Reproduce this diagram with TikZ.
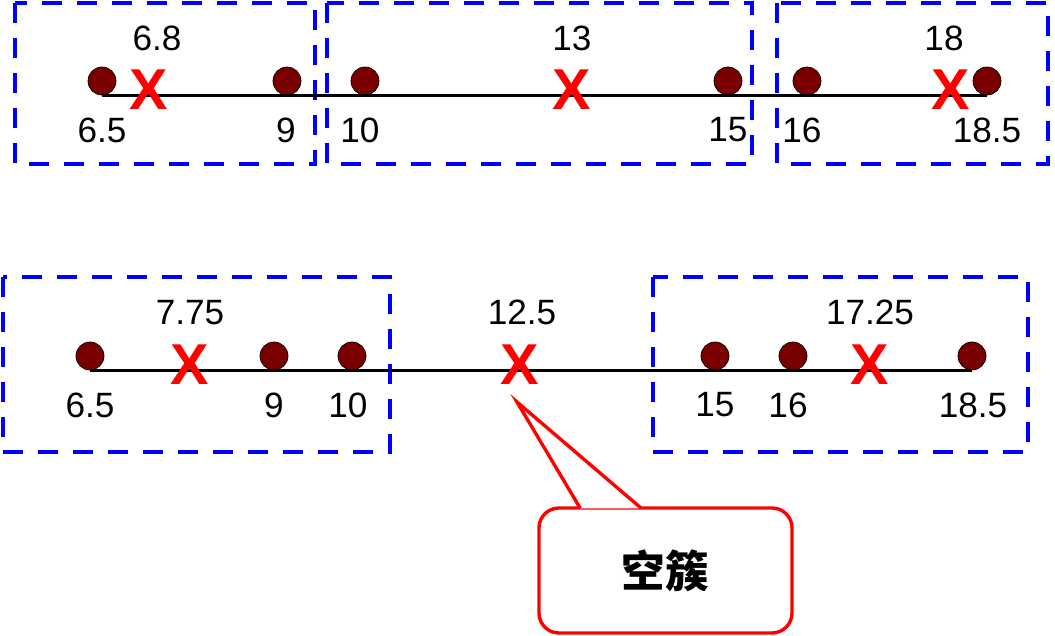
\documentclass[tikz,border=0pt]{standalone}
\usepackage{fontspec}
\setmainfont{Liberation Sans}
\newfontfamily\cjk{Noto Sans CJK SC}
\usetikzlibrary{calc}
\definecolor{dotred}{HTML}{7A0000}
\definecolor{clublue}{HTML}{0000FF}
\definecolor{markred}{HTML}{FF0000}

\begin{document}
\begin{tikzpicture}[x=0.025cm,y=-0.025cm,
  dot/.style={circle,draw=black,line width=0.5pt,fill=dotred,minimum size=0.7cm,inner sep=0pt},
  num/.style={inner sep=0pt,font=\fontsize{25}{28}\selectfont},
  centre/.style={inner sep=0pt,text=markred,font=\fontsize{41}{44}\selectfont\bfseries},
  axis/.style={line width=1.9pt,black},
  cluster/.style={draw=clublue,line width=3.1pt,dash pattern=on 14.2pt off 10.7pt},
  callout/.style={draw=markred,line width=2.4pt,fill=white,rounded corners=0.5cm,
                  minimum width=6.325cm,minimum height=3.125cm,
                  font=\cjk\bfseries\fontsize{31}{34}\selectfont},
  pointer/.style={draw=markred,line width=2.4pt,fill=white,line join=miter}]
  \useasboundingbox (0,0) rectangle (1055,636);
  % first pass: three clusters
  \draw[cluster] (15,3) rectangle (315,164);
  \draw[cluster] (327,3) rectangle (752,164);
  \draw[cluster] (777,3) rectangle (1048,164);
  \node[dot] (t65) at (102,81) {};
  \node[dot] (t9) at (287,81) {};
  \node[dot] (t10) at (365,81) {};
  \node[dot] (t15) at (728,81) {};
  \node[dot] (t16) at (807,81) {};
  \node[dot] (t185) at (987,81) {};
  \draw[axis] (t65.south) -- (t185.south);
  \node[centre] (tc1) at (149,90) {X};
  \node[centre] (tc2) at (572,90) {X};
  \node[centre] (tc3) at (951,90) {X};
  \node[num] at (157,38) {6.8};
  \node[num] at (572,38) {13};
  \node[num] at (944,38) {18};
  \node[num] at (102,130) {6.5};
  \node[num] at (286,130) {9};
  \node[num] at (360,130) {10};
  \node[num] at (728,130) {15};
  \node[num] at (802,130) {16};
  \node[num] at (987,130) {18.5};
  % second pass: one cluster left empty
  \draw[cluster] (3,277) rectangle (390,452);
  \draw[cluster] (653,277) rectangle (1028,452);
  \node[dot] (b65) at (90,356) {};
  \node[dot] (b9) at (274,356) {};
  \node[dot] (b10) at (352,356) {};
  \node[dot] (b15) at (715,356) {};
  \node[dot] (b16) at (793,356) {};
  \node[dot] (b185) at (972,356) {};
  \draw[axis] (b65.south) -- (b185.south);
  \node[centre] (bc1) at (190,365) {X};
  \node[centre] (bc2) at (520,365) {X};
  \node[centre] (bc3) at (870,365) {X};
  \node[num] at (190,313) {7.75};
  \node[num] at (522,312) {12.5};
  \node[num] at (870,312) {17.25};
  \node[num] at (90,405) {6.5};
  \node[num] at (274,405) {9};
  \node[num] at (348,405) {10};
  \node[num] at (715,405) {15};
  \node[num] at (788,405) {16};
  \node[num] at (973,405) {18.5};
  % callout
  \coordinate (tip) at (517,402);
  \node[callout] (empty) at (665.5,570.5) {空簇};
  \draw[pointer] ($(empty.north west)+(43,2)$) -- (tip) -- ($(empty.north west)+(104,2)$);
\end{tikzpicture}
\end{document}
